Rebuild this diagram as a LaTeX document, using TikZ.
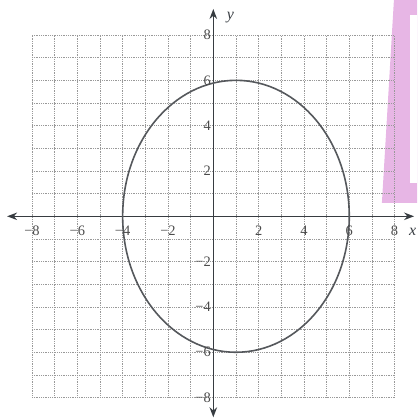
\documentclass[tikz,border=0pt]{standalone}
\usepackage{fontspec}
\setmainfont{Liberation Serif}
\usetikzlibrary{arrows.meta}
\definecolor{pinkhl}{RGB}{231,182,229}
\definecolor{inkdark}{RGB}{55,60,65}
\definecolor{curveink}{RGB}{85,88,92}
\definecolor{labelink}{RGB}{75,75,75}
\begin{document}
\begin{tikzpicture}[x=22.66bp,y=22.66bp,
  gridline/.style={gray!80, densely dotted, line width=0.8bp},
  axisline/.style={inkdark, line width=1.3bp, -{Stealth[length=10bp,width=7.5bp]}},
  curve/.style={curveink, line width=1.6bp},
  ticklab/.style={labelink, font=\fontsize{14.5}{14.5}\selectfont, inner sep=0pt},
  axislab/.style={inkdark, font=\fontsize{16}{16}\selectfont\itshape, inner sep=0pt}]
\useasboundingbox (-9.413,-8.989) rectangle (8.989,9.545);
% pink highlighter
\fill[pinkhl] (7.97,9.545) -- (8.989,9.545) -- (8.989,0.59) -- (7.44,0.59) -- cycle;
\fill[white] (8.68,8.9) rectangle (8.989,1.47);
% grid
\foreach \k in {-8,...,8} {
  \draw[gridline] (\k,-8) -- (\k,8);
  \draw[gridline] (-8,\k) -- (8,\k);
}
% axes
\coordinate (xl) at (-9.10,0);
\coordinate (xr) at (8.86,0);
\coordinate (yb) at (0,-8.87);
\coordinate (yt) at (0,9.15);
\draw[axisline] (0,0) -- (xl);
\draw[axisline] (0,0) -- (xr);
\draw[axisline] (0,0) -- (yb);
\draw[axisline] (0,0) -- (yt);
\node[axislab] (xlab) at (8.8,-0.68) {x};
\node[axislab] (ylab) at (0.75,8.78) {y};
% ellipse
\draw[curve] (1,0) ellipse [x radius=5, y radius=6];
% tick labels
\foreach \k/\t in {-8/−8,-6/−6,-4/−4,-2/−2,2/2,4/4,6/6,8/8} {
  \node[ticklab] (xt\k) at (\k,-0.62) {\t};
  \node[ticklab, anchor=east] (yt\k) at (-0.1,\k) {\t};
}
\end{tikzpicture}
\end{document}
